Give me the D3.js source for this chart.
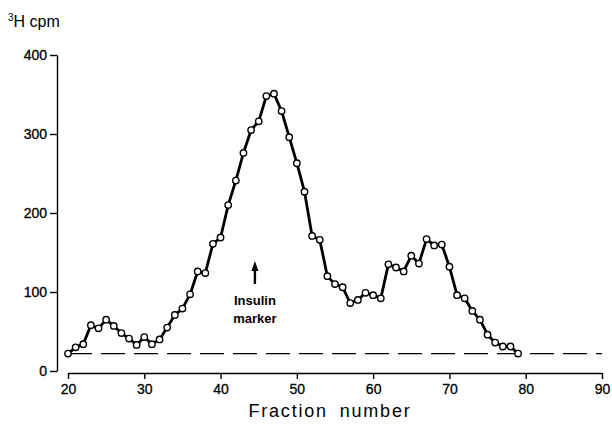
<!DOCTYPE html>
<html>
<head>
<meta charset="utf-8">
<script src="https://cdn.jsdelivr.net/npm/d3@7"></script>
<style>
  html, body { margin: 0; padding: 0; background: #fff; }
  svg { display: block; }
  text { font-family: "Liberation Sans", Arial, sans-serif; fill: #000; }
</style>
</head>
<body>
<svg id="chart" width="612" height="427"></svg>
<script>
// ---- data ----
const fractions = [20,21,22,23,24,25,26,27,28,29,30,31,32,33,34,35,36,37,38,39,
                   40,41,42,43,44,45,46,47,48,49,50,51,52,53,54,55,56,57,58,59,
                   60,61,62,63,64,65,66,67,68,69,70,71,72,73,74,75,76,77,78,79];
const cpm = [22,30,34,58,54,65,57,48,41,33,43,34,40,55,71,79,97,126,124,161,
             169,210,241,276,305,316,348,351,329,296,263,227,171,166,120,110,106,86,90,99,
             96,92,135,131,126,146,136,167,159,160,132,96,92,76,65,46,36,31,31,22];
const xTicks = [20,30,40,50,60,70,80,90];
const yTicks = [0,100,200,300,400];
const background = 22;        // dashed background level
const markerFraction = 44.5;  // insulin marker position
const yLabel = "H cpm";
const xLabel = "Fraction number";
const markerLines = ["Insulin", "marker"];

// ---- scales ----
const svg = d3.select("#chart");
const x = d3.scaleLinear().domain([20, 90]).range([68, 602]);
const y = d3.scaleLinear().domain([0, 400]).range([371, 55]);

// y axis
const yAxis = d3.axisLeft(y).tickValues(yTicks).tickSize(7).tickPadding(3).tickSizeOuter(0);
const gy = svg.append("g").attr("transform", "translate(57,0)").call(yAxis);
gy.select(".domain").attr("stroke", "#000").attr("stroke-width", 1.4);
gy.selectAll(".tick line").attr("stroke", "#000").attr("stroke-width", 1.4);
gy.selectAll(".tick text").style("font-size", "14px").attr("fill", "#000")
  .attr("stroke", "#000").attr("stroke-width", 0.3);

// x axis
const xAxis = d3.axisBottom(x).tickValues(xTicks).tickSize(6).tickPadding(5).tickSizeOuter(0);
const gx = svg.append("g").attr("transform", "translate(0,373)").call(xAxis);
gx.select(".domain").attr("stroke", "#000").attr("stroke-width", 1.4);
gx.selectAll(".tick line").attr("stroke", "#000").attr("stroke-width", 1.4);
gx.selectAll(".tick text").style("font-size", "14px").attr("fill", "#000")
  .attr("stroke", "#000").attr("stroke-width", 0.3);

// dashed background line
svg.append("line")
  .attr("x1", x(20)).attr("x2", x(90))
  .attr("y1", y(background)).attr("y2", y(background))
  .attr("stroke", "#000").attr("stroke-width", 1.2)
  .attr("stroke-dasharray", "24,9");

// data line
const pts = fractions.map((f, i) => ({f, v: cpm[i]}));
svg.append("path")
  .datum(pts)
  .attr("fill", "none")
  .attr("stroke", "#000")
  .attr("stroke-width", 2.8)
  .attr("stroke-linejoin", "round")
  .attr("d", d3.line().x(d => x(d.f)).y(d => y(d.v)));

svg.append("g").selectAll("circle")
  .data(pts).join("circle")
  .attr("cx", d => x(d.f)).attr("cy", d => y(d.v))
  .attr("r", 3.2)
  .attr("fill", "#fff").attr("stroke", "#000").attr("stroke-width", 1.4);

// insulin marker arrow
const ax = x(markerFraction);
svg.append("line")
  .attr("x1", ax).attr("x2", ax).attr("y1", 268).attr("y2", 284)
  .attr("stroke", "#000").attr("stroke-width", 2.4);
svg.append("path")
  .attr("d", `M${ax},261 L${ax - 3.5},271 L${ax + 3.5},271 Z`)
  .attr("fill", "#000");
svg.append("text").attr("x", ax).attr("y", 305)
  .attr("text-anchor", "middle").style("font-size", "13px").style("font-weight", "bold")
  .text(markerLines[0]);
svg.append("text").attr("x", ax).attr("y", 323)
  .attr("text-anchor", "middle").style("font-size", "13px").style("font-weight", "bold")
  .text(markerLines[1]);

// axis titles
const yt = svg.append("text").attr("x", 8).attr("y", 27).style("font-size", "16px");
yt.append("tspan").attr("dy", "-6").style("font-size", "10px").text("3");
yt.append("tspan").attr("dy", "6").text(yLabel);

svg.append("text").attr("x", 330).attr("y", 417)
  .attr("text-anchor", "middle").style("font-size", "18px")
  .style("letter-spacing", "1.8px").style("word-spacing", "5px")
  .text(xLabel);
</script>
</body>
</html>
